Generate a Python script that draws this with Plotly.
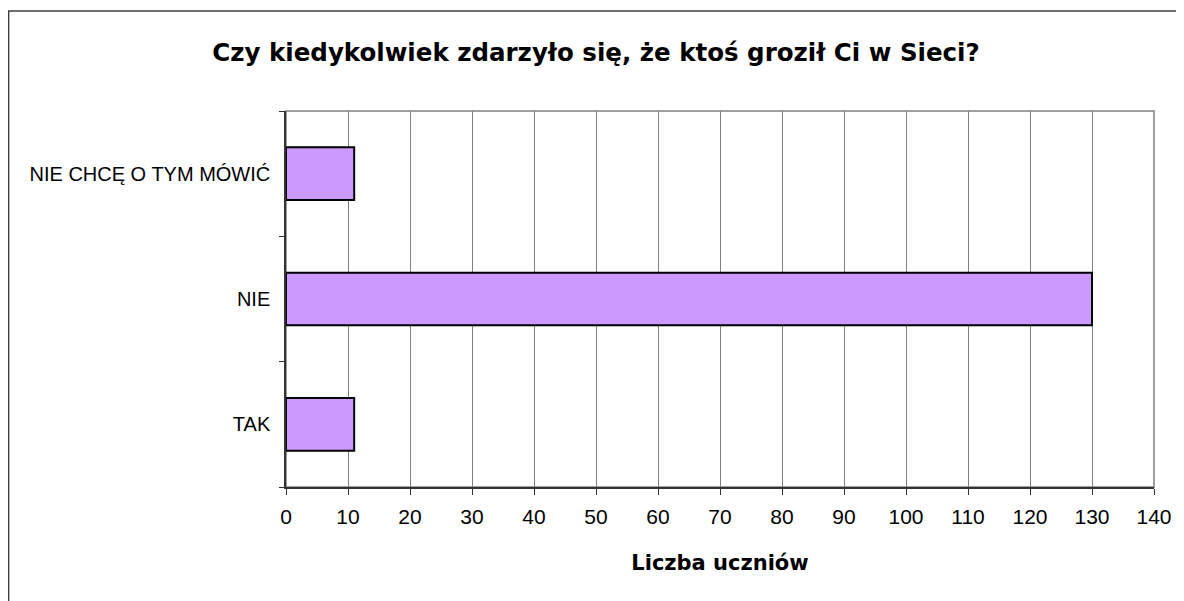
import plotly.graph_objects as go

categories = ["TAK", "NIE", "NIE CHCĘ O TYM MÓWIĆ"]
values = [11, 130, 11]
x_ticks = list(range(0, 141, 10))

title_text = "Czy kiedykolwiek zdarzyło się, że ktoś groził Ci w Sieci?"
x_title = "Liczba uczniów"

FONT = "Liberation Sans, Arial, sans-serif"
BOLD = "DejaVu Sans, Liberation Sans, Arial, sans-serif"

# page has an 8px body margin; work in div coordinates
OFF = 8
W, H = 1184 - OFF, 601 - OFF
L, R, T, B = 286 - OFF, 28, 111 - OFF, 114
pw = W - L - R
ph = H - T - B

fig = go.Figure()
fig.add_trace(go.Bar(
    y=categories, x=values, orientation="h",
    marker=dict(color="#CC99FF", line=dict(color="#000000", width=2)),
    width=0.42,
))

fig.update_layout(
    width=W, height=H,
    margin=dict(l=L, r=R, t=T, b=B, pad=0),
    paper_bgcolor="white", plot_bgcolor="white",
    showlegend=False,
    title=dict(text="<b>" + title_text + "</b>", x=0.5, xanchor="center",
               y=1 - (52 - OFF) / H, yanchor="middle",
               font=dict(family=BOLD, size=24.5, color="#000000")),
    font=dict(family=FONT, color="#000000"),
    xaxis=dict(
        range=[0, 140], tickvals=x_ticks, ticktext=[str(v) for v in x_ticks],
        showgrid=True, gridcolor="#808080", gridwidth=1,
        showline=True, linecolor="#333333", linewidth=1.5,
        ticks="outside", ticklen=6, tickcolor="#333333", tickwidth=1,
        tickfont=dict(family=FONT, size=21, color="#000000"),
        ticklabelstandoff=4,
        title=dict(text="<b>" + x_title + "</b>", standoff=28,
                   font=dict(family=BOLD, size=21, color="#000000")),
        zeroline=False, fixedrange=True,
    ),
    yaxis=dict(
        categoryorder="array", categoryarray=categories,
        showgrid=False, tickson="boundaries",
        showline=True, linecolor="#333333", linewidth=1.5,
        ticks="outside", ticklen=5, tickcolor="#333333", tickwidth=1,
        tickfont=dict(family=FONT, size=20, color="#000000"),
        ticklabelstandoff=10,
        zeroline=False, fixedrange=True,
    ),
)

# plot area border (gray)
fig.add_shape(type="rect", xref="paper", yref="paper", x0=0, x1=1, y0=0, y1=1,
              line=dict(color="#808080", width=1.5), layer="below")
# outer chart frame (extends beyond the visible window on right/bottom)
fx0, fy0 = 8 - OFF, 11 - OFF
fig.add_shape(type="rect", xref="paper", yref="paper",
              x0=(fx0 - L) / pw, x1=(W + 20 - L) / pw,
              y0=(H - B - (H + 20)) / ph, y1=(H - B - fy0) / ph,
              line=dict(color="#404040", width=1.5), layer="above")

fig.write_html("out.html")
